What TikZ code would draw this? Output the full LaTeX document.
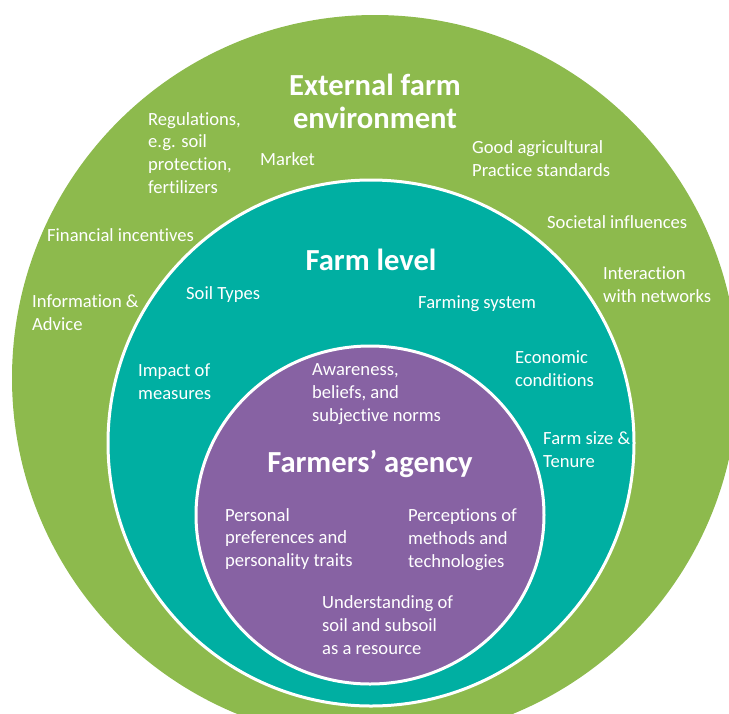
\documentclass[tikz,border=0pt]{standalone}
\usepackage{fontspec}
\setmainfont{Carlito}[Ligatures={NoCommon}]
\definecolor{outergreen}{RGB}{141,186,77}
\definecolor{farmteal}{RGB}{0,175,162}
\definecolor{agencypurple}{RGB}{135,98,163}
\begin{document}
\begin{tikzpicture}[x=1pt,y=-1pt,
  lbl/.style={anchor=base west, inner sep=0pt, text=white, align=left,
    font=\fontsize{18.6}{22.6}\selectfont},
  ttl/.style={anchor=base, inner sep=0pt, text=white, align=center,
    font=\fontsize{30.6}{33.5}\selectfont\bfseries},
  ring/.style={draw=white, line width=3pt}]
\useasboundingbox (0,0) rectangle (729,713);
\begin{scope}
  \clip (0,0) rectangle (729,713);
  \fill[outergreen] (375,378) circle[radius=363pt];
  \filldraw[farmteal, ring] (371,443) circle[radius=263pt];
  \filldraw[agencypurple, ring] (370,515) ellipse[x radius=174pt, y radius=169pt];
\end{scope}
% External farm environment (positions give the baseline of the last line)
\node[ttl] (ext) at (375,128.5) {External farm\\environment};
\node[lbl] (reg) at (148,193) {Regulations,\\e.g. soil\\protection,\\fertilizers};
\node[lbl] (mkt) at (260,165) {Market};
\node[lbl] (gap) at (472,176.5) {Good agricultural\\Practice standards};
\node[lbl] (soc) at (547,228) {Societal influences};
\node[lbl] (fin) at (47,241) {Financial incentives};
\node[lbl] (net) at (603,302.5) {Interaction\\with networks};
\node[lbl] (inf) at (32,330.5) {Information \&\\Advice};
% Farm level
\node[ttl] (farm) at (371,270) {Farm level};
\node[lbl] (soil) at (186,299) {Soil Types};
\node[lbl] (fsys) at (418,308) {Farming system};
\node[lbl] (eco) at (515,386) {Economic\\conditions};
\node[lbl] (imp) at (138,399.5) {Impact of\\measures};
\node[lbl] (size) at (543,467.5) {Farm size \&\\Tenure};
% Farmers' agency
\node[ttl] (agency) at (370,472) {Farmers’ agency};
\node[lbl] (aware) at (312,421) {Awareness,\\beliefs, and\\subjective norms};
\node[lbl] (pers) at (225,566.5) {Personal\\preferences and\\personality traits};
\node[lbl] (perc) at (408,567) {Perceptions of\\methods and\\technologies};
\node[lbl] (und) at (322,654) {Understanding of\\soil and subsoil\\as a resource};
\end{tikzpicture}
\end{document}
